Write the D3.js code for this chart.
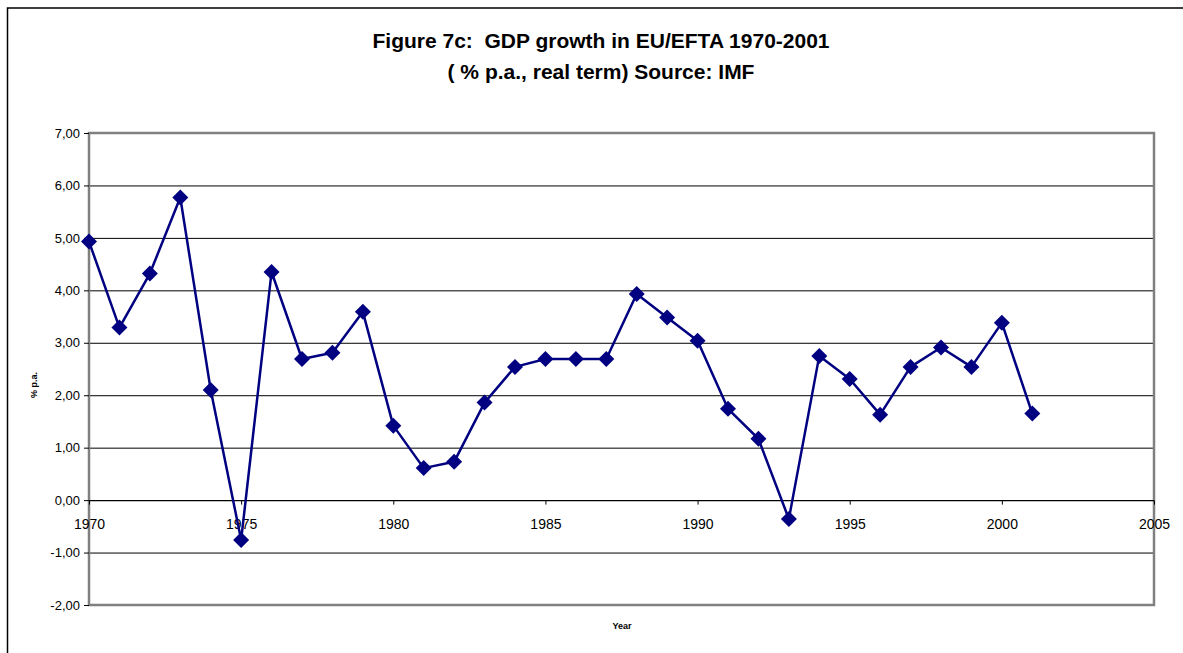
<!DOCTYPE html>
<html>
<head>
<meta charset="utf-8">
<script src="https://cdn.jsdelivr.net/npm/d3@7"></script>
<style>
  html, body { margin: 0; padding: 0; background: #fff; }
  svg { display: block; font-family: Arial, "Liberation Sans", sans-serif; }
  .title { white-space: pre; }
</style>
</head>
<body>
<svg id="chart" width="1183" height="653"></svg>
<script>
// Annual real GDP growth, EU/EFTA (% p.a.)
const years = [1970, 1971, 1972, 1973, 1974, 1975, 1976, 1977, 1978, 1979,
               1980, 1981, 1982, 1983, 1984, 1985, 1986, 1987, 1988, 1989,
               1990, 1991, 1992, 1993, 1994, 1995, 1996, 1997, 1998, 1999,
               2000, 2001];
const growth = [4.93, 3.29, 4.32, 5.77, 2.10, -0.76, 4.35, 2.69, 2.81, 3.59,
                1.42, 0.61, 0.73, 1.86, 2.54, 2.69, 2.69, 2.69, 3.93, 3.48,
                3.04, 1.74, 1.17, -0.36, 2.75, 2.31, 1.63, 2.54, 2.91, 2.54,
                3.38, 1.65];
const xTicks = [1970, 1975, 1980, 1985, 1990, 1995, 2000, 2005];
const yTicks = [-2, -1, 0, 1, 2, 3, 4, 5, 6, 7];
const titleLines = ["Figure 7c:  GDP growth in EU/EFTA 1970-2001",
                    "( % p.a., real term) Source: IMF"];
const xTitle = "Year";
const yTitle = "% p.a.";

const svg = d3.select("#chart");
const plot = { left: 89, right: 1154, top: 133, bottom: 605 };

const x = d3.scaleLinear().domain([1970, 2005]).range([plot.left, plot.right]);
const y = d3.scaleLinear().domain([-2, 7]).range([plot.bottom, plot.top]);
const fmt = v => d3.format(".2f")(v).replace(".", ",").replace("\u2212", "-");

// outer chart frame
svg.append("rect")
  .attr("x", 7.5).attr("y", 8).attr("width", 1200).attr("height", 700)
  .attr("fill", "#fff").attr("stroke", "#000").attr("stroke-width", 1.5);

// title
svg.append("text")
  .attr("class", "title")
  .attr("x", 601).attr("text-anchor", "middle")
  .attr("font-size", 21).attr("font-weight", "bold")
  .selectAll("tspan").data(titleLines).join("tspan")
  .attr("x", 601).attr("y", (d, i) => 48 + i * 31)
  .text(d => d);

// horizontal gridlines
svg.append("g").selectAll("line")
  .data(yTicks.filter(v => v !== 0 && v !== -2 && v !== 7))
  .join("line")
  .attr("x1", plot.left).attr("x2", plot.right)
  .attr("y1", d => y(d) + 0.5).attr("y2", d => y(d) + 0.5)
  .attr("stroke", "#000").attr("stroke-width", 1);

// plot frame
svg.append("rect")
  .attr("x", plot.left).attr("y", plot.top)
  .attr("width", plot.right - plot.left).attr("height", plot.bottom - plot.top)
  .attr("fill", "none").attr("stroke", "#808080").attr("stroke-width", 2.5);

// y axis
const yAxis = d3.axisLeft(y).tickValues(yTicks).tickFormat(fmt).tickSize(5).tickPadding(4);
const gy = svg.append("g").attr("transform", `translate(${plot.left},0)`).call(yAxis);
gy.select(".domain").remove();
gy.selectAll(".tick line").attr("stroke", "#000");
gy.selectAll(".tick text").attr("font-size", 13).attr("font-family", "Arial, 'Liberation Sans', sans-serif").attr("fill", "#000");

// x axis along zero
const xAxis = d3.axisBottom(x).tickValues(xTicks).tickFormat(d3.format("d")).tickSize(4).tickPadding(14);
const gx = svg.append("g").attr("transform", `translate(0,${y(0) + 0.5})`).call(xAxis);
gx.select(".domain").attr("stroke", "#000").attr("stroke-width", 1.2)
  .attr("d", `M${plot.left},0H${plot.right}`);
gx.selectAll(".tick line").attr("stroke", "#000");
gx.selectAll(".tick text").attr("font-size", 14).attr("font-family", "Arial, 'Liberation Sans', sans-serif").attr("fill", "#000");

// axis titles
svg.append("text")
  .attr("x", 622).attr("y", 629).attr("text-anchor", "middle")
  .attr("font-size", 9).attr("font-weight", "bold").text(xTitle);
svg.append("text")
  .attr("transform", "translate(37,385) rotate(-90)").attr("text-anchor", "middle")
  .attr("font-size", 9).attr("font-weight", "bold").text(yTitle);

// series line and diamond markers
const pts = years.map((yr, i) => ({ yr, v: growth[i] }));
svg.append("path").datum(pts)
  .attr("fill", "none").attr("stroke", "#000080").attr("stroke-width", 2.5)
  .attr("stroke-linejoin", "round")
  .attr("d", d3.line().x(d => x(d.yr)).y(d => y(d.v)));

svg.append("g").selectAll("path").data(pts).join("path")
  .attr("transform", d => `translate(${x(d.yr)},${y(d.v)})`)
  .attr("d", "M0,-8L8,0L0,8L-8,0Z")
  .attr("fill", "#000080");
</script>
</body>
</html>
